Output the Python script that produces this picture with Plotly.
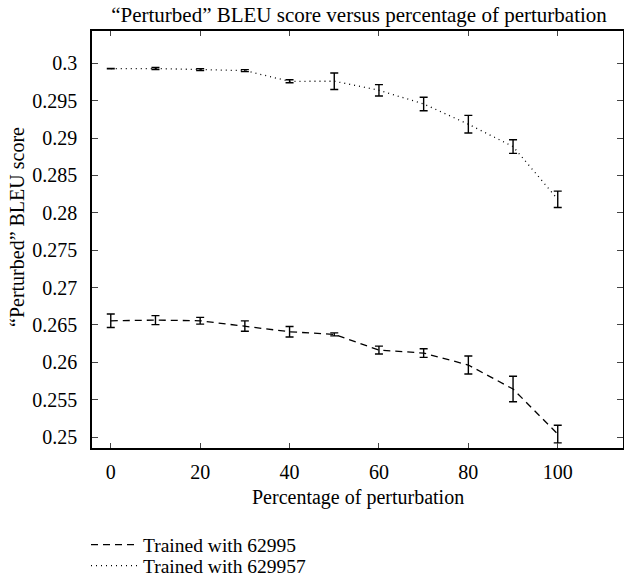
import plotly.graph_objects as go

x = [0, 10, 20, 30, 40, 50, 60, 70, 80, 90, 100]

# Trained with 62995 (dashed)
y_small = [0.26555, 0.26564, 0.26555, 0.26484, 0.26408, 0.26373, 0.26163, 0.26123, 0.25963, 0.25642, 0.25040]
e_small = [0.0009, 0.0006, 0.00045, 0.0007, 0.0007, 0.0002, 0.00053, 0.00058, 0.0012, 0.0017, 0.00118]

# Trained with 629957 (dotted)
y_large = [0.29929, 0.29930, 0.29916, 0.29902, 0.29759, 0.29760, 0.29639, 0.29456, 0.29185, 0.28886, 0.28180]
e_large = [0.00002, 0.00013, 0.00013, 0.00013, 0.0002, 0.0011, 0.00076, 0.0009, 0.00118, 0.00091, 0.0011]

y_ticks = [0.25, 0.255, 0.26, 0.265, 0.27, 0.275, 0.28, 0.285, 0.29, 0.295, 0.3]
y_tick_text = ["0.25", "0.255", "0.26", "0.265", "0.27", "0.275", "0.28", "0.285", "0.29", "0.295", "0.3"]
x_ticks = [0, 20, 40, 60, 80, 100]

FONT = "Liberation Serif"
FS = 20
W, H = 624, 585
L, R, T, B = 92, 1, 31, 137

fig = go.Figure()
fig.add_trace(go.Scatter(
    x=x, y=y_small, mode="lines", name="Trained with 62995", legend="legend",
    line=dict(color="black", width=1.3, dash="7px,5px"),
    error_y=dict(type="data", array=e_small, visible=True, color="black", thickness=1.4, width=4),
))
fig.add_trace(go.Scatter(
    x=x, y=y_large, mode="lines", name="Trained with 629957", legend="legend2",
    line=dict(color="black", width=1.3, dash="1px,4px"),
    error_y=dict(type="data", array=e_large, visible=True, color="black", thickness=1.4, width=4),
))

def leg(ypx):
    return dict(xref="container", yref="container", x=86 / W, y=1 - ypx / H,
                xanchor="left", yanchor="middle", bgcolor="rgba(0,0,0,0)",
                font=dict(family=FONT, size=19.5, color="black"), itemwidth=47,
                borderwidth=0)

fig.update_layout(
    width=W, height=H,
    margin=dict(l=L, r=R, t=T, b=B, autoexpand=False),
    paper_bgcolor="white", plot_bgcolor="white",
    font=dict(family=FONT, size=FS, color="black"),
    title=dict(text="“Perturbed” BLEU score versus percentage of perturbation",
               xref="container", x=359 / W, xanchor="center",
               yref="container", y=1 - 15 / H, yanchor="middle",
               font=dict(family=FONT, size=21, color="black")),
    showlegend=True,
    legend=leg(545),
    legend2=leg(566),
    hovermode=False,
    annotations=[
        dict(text="Percentage of perturbation", xref="paper", yref="paper",
             x=0.5, y=-(497 - (H - B)) / (H - T - B), xanchor="center", yanchor="middle",
             showarrow=False, font=dict(family=FONT, size=FS, color="black")),
        dict(text="“Perturbed” BLEU score", xref="paper", yref="paper",
             x=(17 - L) / (W - L - R), y=1 - (227 - T) / (H - T - B),
             xanchor="center", yanchor="middle", textangle=-90,
             showarrow=False, font=dict(family=FONT, size=FS, color="black")),
    ],
)
fig.update_xaxes(
    range=[-4.2, 114.6], tickvals=x_ticks, ticks="inside", ticklen=5, tickwidth=1.3,
    showline=True, linecolor="black", linewidth=1.5, mirror="ticks",
    showgrid=False, zeroline=False, ticklabelstandoff=5, automargin=False,
    tickfont=dict(family=FONT, size=FS, color="black"),
)
fig.update_yaxes(
    range=[0.24853, 0.30432], tickvals=y_ticks, ticktext=y_tick_text,
    ticks="inside", ticklen=6, tickwidth=1.3,
    showline=True, linecolor="black", linewidth=1.5, mirror="ticks",
    showgrid=False, zeroline=False, ticklabelstandoff=9, automargin=False,
    tickfont=dict(family=FONT, size=FS, color="black"),
)

fig.write_html("out.html")
